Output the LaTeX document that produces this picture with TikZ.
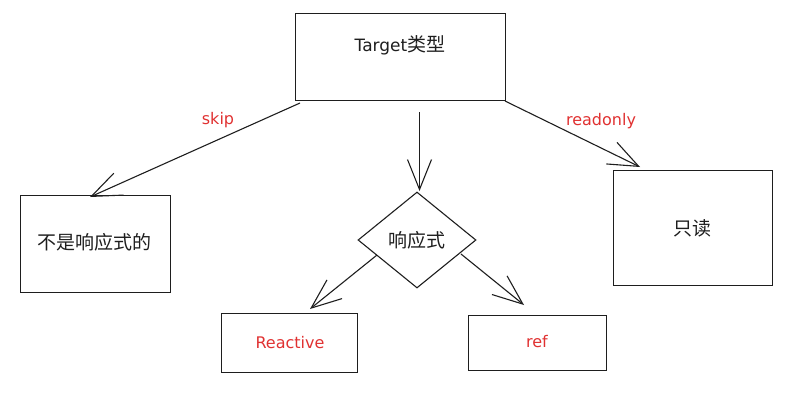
\documentclass[tikz,border=0pt]{standalone}
\usepackage{fontspec}
\setmainfont{DejaVu Sans}
\newfontfamily\cjkf{Noto Sans CJK SC}
\usetikzlibrary{shapes.geometric,arrows.meta}
\definecolor{ink}{HTML}{1E1E1E}
\definecolor{exred}{HTML}{E03131}
\tikzset{
  box/.style={draw=ink, line width=1.3pt, rectangle, inner sep=0pt, anchor=north west},
  lbl/.style={font=\cjkf\fontsize{19}{22}\selectfont, text=ink},
  redlbl/.style={font=\fontsize{16}{19}\selectfont, text=exred},
  conn/.style={draw=ink, line width=1.1pt, -{Straight Barb[length=30pt,width=24pt,line width=1.1pt]}},
}
\begin{document}
\begin{tikzpicture}[x=1pt,y=-1pt]
\useasboundingbox (0,0) rectangle (805,400);
\node[box, minimum width=210pt, minimum height=87pt] (target) at (295,13) {};
\node[lbl] (targett) at (400,45) {{\fontspec{DejaVu Sans}\fontsize{17}{20}\selectfont Target}类型};
\node[box, minimum width=150pt, minimum height=97pt] (left) at (20,195) {};
\node[lbl] at (94,242) {不是响应式的};
\node[box, minimum width=159pt, minimum height=115pt] (right) at (613,170) {};
\node[lbl] at (692,228) {只读};
\node[draw=ink, line width=1.1pt, diamond, aspect=1.23, minimum width=118pt, minimum height=96pt, inner sep=0pt] (dia) at (417,240) {};
\node[lbl] at (417,240) {响应式};
\node[box, minimum width=136pt, minimum height=59pt] (react) at (221,313) {};
\node[redlbl] at (290,343) {Reactive};
\node[box, minimum width=138pt, minimum height=55pt] (ref) at (468,315) {};
\node[redlbl] at (537,342) {ref};
\coordinate (s1) at (300,103);
\coordinate (s2) at (90,197);
\coordinate (r1) at (505,101);
\coordinate (r2) at (640,167);
\coordinate (m1) at (419.5,112);
\coordinate (m2) at (419.5,191);
\coordinate (a1) at (377,255);
\coordinate (a2) at (310,309);
\coordinate (b1) at (461,254);
\coordinate (b2) at (524,305);
\draw[conn] (s1) -- (s2);
\draw[conn] (r1) -- (r2);
\draw[conn] (m1) -- (m2);
\draw[conn] (a1) -- (a2);
\draw[conn] (b1) -- (b2);
\node[redlbl] at (218,120) {skip};
\node[redlbl] at (601,121) {readonly};
\end{tikzpicture}
\end{document}
